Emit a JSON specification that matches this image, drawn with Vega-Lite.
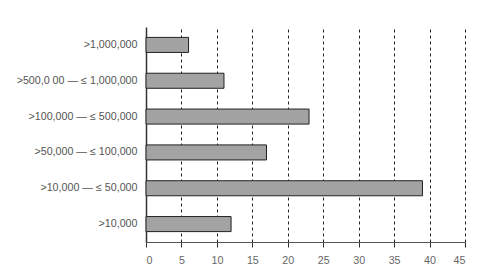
{
  "$schema": "https://vega.github.io/schema/vega-lite/v6.json",
  "autosize": {"type": "none"},
  "padding": {"left": 146, "top": 27, "right": 31, "bottom": 37},
  "width": 319,
  "height": 215,
  "background": "white",
  "config": {"view": {"stroke": null}, "font": "Liberation Sans"},
  "data": {"values": [
    {"category": ">1,000,000", "value": 6},
    {"category": ">500,0 00 — ≤ 1,000,000", "value": 11},
    {"category": ">100,000 — ≤ 500,000", "value": 23},
    {"category": ">50,000 — ≤ 100,000", "value": 17},
    {"category": ">10,000 — ≤ 50,000", "value": 39},
    {"category": ">10,000", "value": 12}
  ]},
  "mark": {"type": "bar", "fill": "#a3a3a3", "stroke": "#222", "strokeWidth": 1},
  "encoding": {
    "y": {
      "field": "category", "type": "nominal", "sort": null,
      "scale": {"paddingInner": 0.58, "paddingOuter": 0.29},
      "axis": {"title": null, "ticks": false, "domainColor": "#333", "domainWidth": 1.5, "labelColor": "#555", "labelFontSize": 10.7, "labelPadding": 9, "grid": false}
    },
    "x": {
      "field": "value", "type": "quantitative",
      "scale": {"domain": [0, 45], "nice": false},
      "axis": {"title": null, "values": [0,5,10,15,20,25,30,35,40,45], "grid": true, "gridColor": "#222", "gridDash": [3, 3], "gridWidth": 1, "gridOpacity": 1, "domainColor": "#555", "tickColor": "#333", "tickSize": 5, "tickOffset": 0, "labelColor": "#666", "labelFontSize": 10.7, "labelPadding": 8}
    }
  }
}
